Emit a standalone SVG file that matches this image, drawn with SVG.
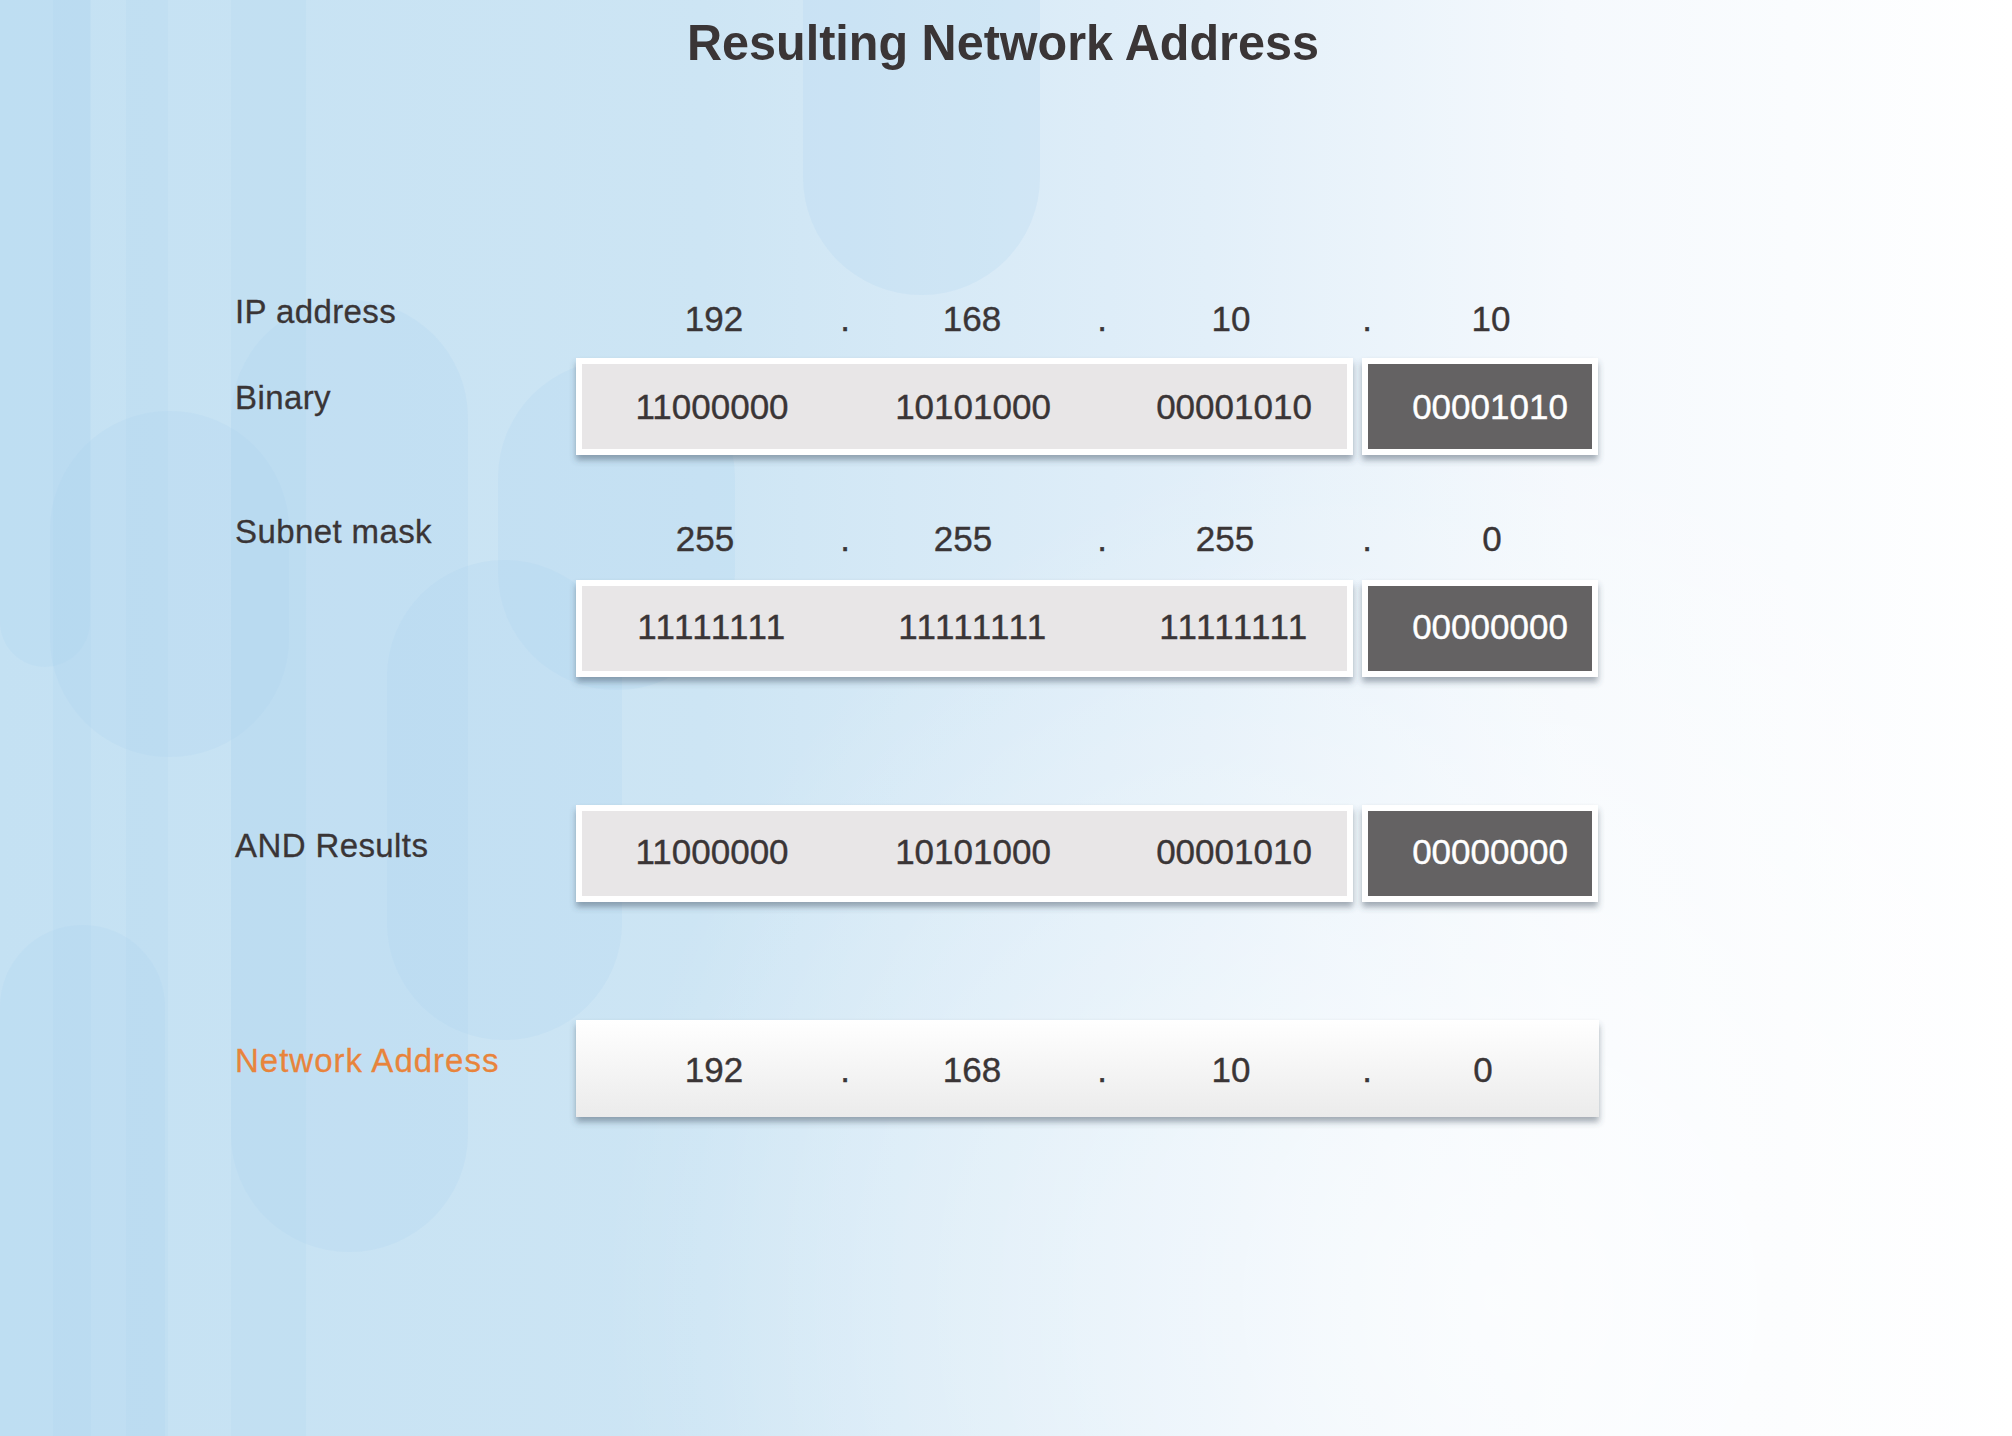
<svg xmlns="http://www.w3.org/2000/svg" width="2012" height="1436" viewBox="0 0 2012 1436">
  <defs>
    <linearGradient id="bg" x1="0" y1="0" x2="2012" y2="0" gradientUnits="userSpaceOnUse">
      <stop offset="0" stop-color="#c4e1f3"/>
      <stop offset="0.35" stop-color="#cde5f4"/>
      <stop offset="0.6" stop-color="#e2eff9"/>
      <stop offset="0.78" stop-color="#f5f9fd"/>
      <stop offset="1" stop-color="#ffffff"/>
    </linearGradient>
    <radialGradient id="glow" cx="1500" cy="1300" r="900" gradientUnits="userSpaceOnUse">
      <stop offset="0" stop-color="#ffffff" stop-opacity="0.7"/>
      <stop offset="1" stop-color="#ffffff" stop-opacity="0"/>
    </radialGradient>
    <linearGradient id="netfill" x1="0" y1="0" x2="0" y2="1">
      <stop offset="0" stop-color="#ffffff"/>
      <stop offset="1" stop-color="#ebebeb"/>
    </linearGradient>
    <filter id="shadow" x="-5%" y="-20%" width="110%" height="150%">
      <feDropShadow dx="0" dy="5" stdDeviation="3" flood-color="#3a4a5a" flood-opacity="0.45"/>
    </filter>
    <style>
      .lbl { font-family: "Liberation Sans", Arial, sans-serif; font-size: 33px; letter-spacing: 0.4px; fill: #3a3536; stroke: #3a3536; stroke-width: 0.3px; }
      .num { font-family: "Liberation Sans", Arial, sans-serif; font-size: 35px; fill: #3a3536; stroke: #3a3536; stroke-width: 0.4px; text-anchor: middle; }
      .wnum { font-family: "Liberation Sans", Arial, sans-serif; font-size: 35px; fill: #ffffff; stroke: #ffffff; stroke-width: 0.4px; text-anchor: middle; }
      .light { fill: #e8e6e7; }
      .dark { fill: #646263; }
      .frame { fill: #ffffff; }
      .pill { fill: #a9d3ee; opacity: 0.2; }
      .stripe { fill: #a9d3ee; opacity: 0.16; }
    </style>
  </defs>

  <g id="background">
    <rect x="0" y="0" width="2012" height="1436" fill="url(#bg)"/>
    <rect class="stripe" x="53" y="0" width="38" height="1436"/>
    <rect class="stripe" x="126" y="0" width="42" height="1436"/>
    <rect class="stripe" x="231" y="0" width="75" height="1436"/>
    <rect class="pill" x="0" y="-120" width="90" height="787" rx="45"/>
    <rect class="pill" x="50" y="411" width="239" height="346" rx="119"/>
    <rect class="pill" x="0" y="925" width="165" height="600" rx="82"/>
    <rect class="pill" x="231" y="300" width="237" height="952" rx="118"/>
    <rect class="pill" x="387" y="560" width="235" height="480" rx="117"/>
    <rect class="pill" x="498" y="360" width="237" height="330" rx="118"/>
    <rect class="pill" x="803" y="-200" width="237" height="495" rx="118"/>
    <rect x="0" y="0" width="2012" height="1436" fill="url(#glow)"/>
  </g>

  <g id="title">
    <text x="1003" y="60" font-family="Liberation Sans, Arial, sans-serif" font-size="50" font-weight="bold" fill="#3a3536" text-anchor="middle" textLength="632" lengthAdjust="spacingAndGlyphs">Resulting Network Address</text>
  </g>

  <g id="labels">
    <text class="lbl" x="235" y="323">IP address</text>
    <text class="lbl" x="235" y="409">Binary</text>
    <text class="lbl" x="235" y="543">Subnet mask</text>
    <text class="lbl" x="235" y="857">AND Results</text>
    <text class="lbl" x="235" y="1072" style="fill:#e8843c;stroke:#e8843c;letter-spacing:1px">Network Address</text>
  </g>

  <g id="ip-decimal">
    <text class="num" x="714" y="331">192</text>
    <text class="num" x="845" y="331">.</text>
    <text class="num" x="972" y="331">168</text>
    <text class="num" x="1102" y="331">.</text>
    <text class="num" x="1231" y="331">10</text>
    <text class="num" x="1367" y="331">.</text>
    <text class="num" x="1491" y="331">10</text>
  </g>

  <g id="ip-binary">
    <rect class="frame" x="576" y="358" width="777" height="97" filter="url(#shadow)"/>
    <rect class="light" x="582" y="364" width="765" height="85"/>
    <rect class="frame" x="1362" y="358" width="236" height="97" filter="url(#shadow)"/>
    <rect class="dark" x="1368" y="364" width="224" height="85"/>
    <text class="num" x="712" y="419">11000000</text>
    <text class="num" x="973" y="419">10101000</text>
    <text class="num" x="1234" y="419">00001010</text>
    <text class="wnum" x="1490" y="419">00001010</text>
  </g>

  <g id="mask-decimal">
    <text class="num" x="705" y="551">255</text>
    <text class="num" x="845" y="551">.</text>
    <text class="num" x="963" y="551">255</text>
    <text class="num" x="1102" y="551">.</text>
    <text class="num" x="1225" y="551">255</text>
    <text class="num" x="1367" y="551">.</text>
    <text class="num" x="1492" y="551">0</text>
  </g>

  <g id="mask-binary">
    <rect class="frame" x="576" y="580" width="777" height="97" filter="url(#shadow)"/>
    <rect class="light" x="582" y="586" width="765" height="85"/>
    <rect class="frame" x="1362" y="580" width="236" height="97" filter="url(#shadow)"/>
    <rect class="dark" x="1368" y="586" width="224" height="85"/>
    <text class="num" x="712" y="639" letter-spacing="1.5">11111111</text>
    <text class="num" x="973" y="639" letter-spacing="1.5">11111111</text>
    <text class="num" x="1234" y="639" letter-spacing="1.5">11111111</text>
    <text class="wnum" x="1490" y="639">00000000</text>
  </g>

  <g id="and-results">
    <rect class="frame" x="576" y="805" width="777" height="97" filter="url(#shadow)"/>
    <rect class="light" x="582" y="811" width="765" height="85"/>
    <rect class="frame" x="1362" y="805" width="236" height="97" filter="url(#shadow)"/>
    <rect class="dark" x="1368" y="811" width="224" height="85"/>
    <text class="num" x="712" y="864">11000000</text>
    <text class="num" x="973" y="864">10101000</text>
    <text class="num" x="1234" y="864">00001010</text>
    <text class="wnum" x="1490" y="864">00000000</text>
  </g>

  <g id="network-address">
    <rect x="576" y="1020" width="1023" height="97" fill="url(#netfill)" filter="url(#shadow)"/>
    <text class="num" x="714" y="1082">192</text>
    <text class="num" x="845" y="1082">.</text>
    <text class="num" x="972" y="1082">168</text>
    <text class="num" x="1102" y="1082">.</text>
    <text class="num" x="1231" y="1082">10</text>
    <text class="num" x="1367" y="1082">.</text>
    <text class="num" x="1483" y="1082">0</text>
  </g>

  <g id="connectors"/>
</svg>
